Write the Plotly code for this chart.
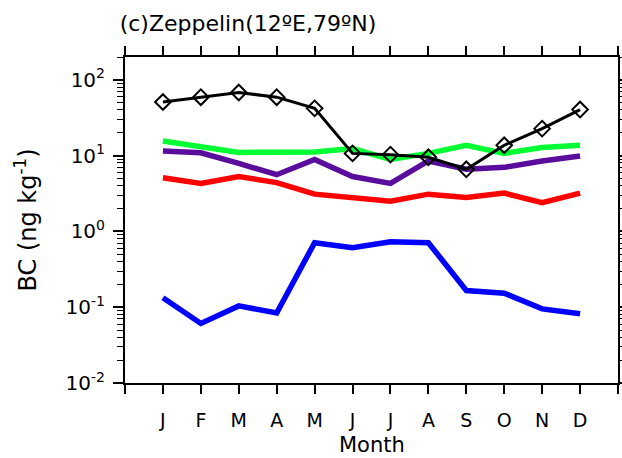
import plotly.graph_objects as go

months = ["J", "F", "M", "A", "M", "J", "J", "A", "S", "O", "N", "D"]
month_idx = list(range(1, 13))

black = [51, 59, 68, 59, 42, 10.7, 10.3, 9.5, 6.6, 13.7, 22.7, 40.5]
green = [15.6, 13.3, 11.0, 11.1, 11.2, 12.4, 8.9, 10.7, 13.7, 10.7, 12.8, 13.7]
purple = [11.5, 10.9, 7.9, 5.6, 8.9, 5.3, 4.3, 8.5, 6.6, 7.0, 8.5, 9.9]
red = [5.1, 4.3, 5.3, 4.4, 3.1, 2.76, 2.5, 3.1, 2.8, 3.2, 2.4, 3.2]
blue = [0.133, 0.061, 0.104, 0.084, 0.71, 0.61, 0.73, 0.71, 0.166, 0.153, 0.095, 0.082]

ytick_vals = [0.01, 0.1, 1, 10, 100]
ytick_text = ["10<sup>-2</sup>", "10<sup>-1</sup>", "10<sup>0</sup>", "10<sup>1</sup>", "10<sup>2</sup>"]
minor_vals = [m * d for d in [0.01, 0.1, 1, 10, 100] for m in range(2, 10) if m * d <= 200]

xtick_vals = list(range(0, 14))
xtick_text = [""] + months + [""]

FONT = "DejaVu Sans"

fig = go.Figure()
fig.add_trace(go.Scatter(x=month_idx, y=blue, mode="lines", line=dict(color="#0000ff", width=5.5)))
fig.add_trace(go.Scatter(x=month_idx, y=red, mode="lines", line=dict(color="#ff0000", width=5.5)))
fig.add_trace(go.Scatter(x=month_idx, y=purple, mode="lines", line=dict(color="#5a0d9c", width=5.5)))
fig.add_trace(go.Scatter(x=month_idx, y=green, mode="lines", line=dict(color="#00ff33", width=5.5)))
fig.add_trace(go.Scatter(x=month_idx, y=black, mode="lines+markers",
                         line=dict(color="black", width=3),
                         marker=dict(symbol="diamond-open", size=12, color="black",
                                     line=dict(width=2, color="black"))))

fig.update_layout(
    width=622, height=458,
    margin=dict(l=125, r=4, t=57, b=75),
    paper_bgcolor="white", plot_bgcolor="white",
    showlegend=False,
    font=dict(family=FONT, color="black"),
    title=dict(text="(c)Zeppelin(12ºE,79ºN)", x=248 / 622, xanchor="center", y=1 - 23 / 458, yanchor="middle",
               font=dict(size=22, family=FONT, color="black")),
    annotations=[dict(text="Month", xref="paper", yref="paper", x=0.5, y=-(445 - 383) / 326,
                      xanchor="center", yanchor="middle", showarrow=False,
                      font=dict(size=21, family=FONT, color="black"))],
)
fig.update_xaxes(
    range=[0, 13], tickmode="array", tickvals=xtick_vals, ticktext=xtick_text,
    ticks="outside", ticklen=9, tickwidth=1.5, tickcolor="black",
    showline=True, linecolor="black", linewidth=2, mirror="ticks",
    showgrid=False, zeroline=False, automargin=False,
    tickfont=dict(size=19, family=FONT), ticklabelstandoff=10,
)
fig.update_yaxes(
    type="log", range=[-2, 2.301], tickmode="array", tickvals=ytick_vals, ticktext=ytick_text,
    ticks="outside", ticklen=10, tickwidth=1.5, tickcolor="black",
    minor=dict(tickmode="array", tickvals=minor_vals, ticks="outside", ticklen=6, tickwidth=1, tickcolor="black", showgrid=False),
    showline=True, linecolor="black", linewidth=2, mirror="ticks",
    showgrid=False, zeroline=False, automargin=False,
    tickfont=dict(size=20, family=FONT), ticklabelstandoff=4,
    title=dict(text="BC (ng kg<sup>-1</sup>)", font=dict(size=24, family=FONT), standoff=22),
)

fig.write_html("out.html")
